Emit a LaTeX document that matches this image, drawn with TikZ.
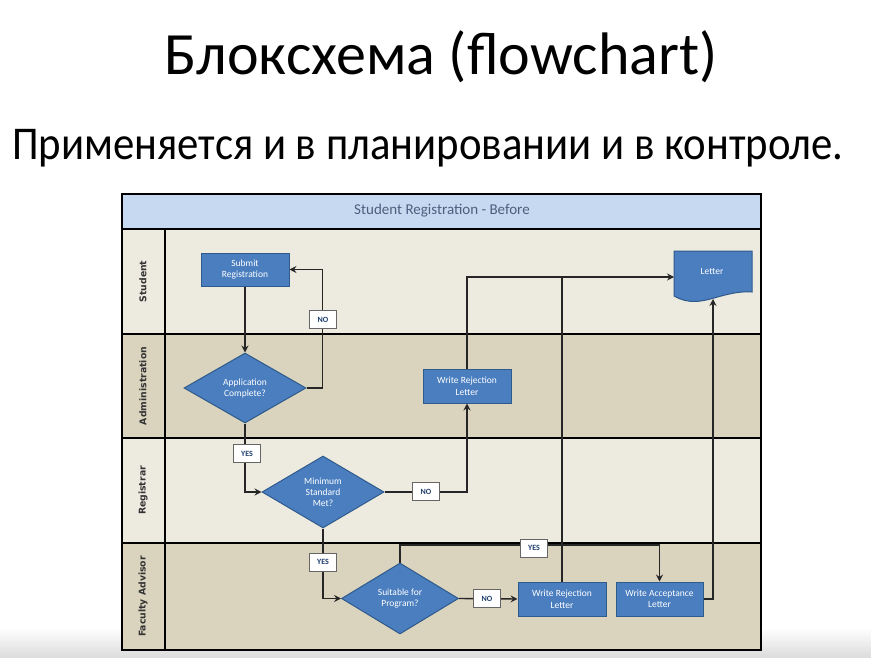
\documentclass[tikz,border=0pt]{standalone}
\usepackage{fontspec}
\setmainfont{Carlito}
\newfontfamily\lanefont{DejaVu Sans}
\usetikzlibrary{shapes.geometric,arrows.meta,calc}
\definecolor{boxblue}{HTML}{4A7EBF}
\definecolor{boxedge}{HTML}{2F5A8C}
\definecolor{laneA}{HTML}{EDEAE0}
\definecolor{laneB}{HTML}{DAD4BE}
\definecolor{hdr}{HTML}{C6D9F0}
\definecolor{hdrtext}{HTML}{4B607F}
\definecolor{lbltext}{HTML}{1F3F6F}
\tikzset{
  procbox/.style={draw=boxedge, fill=boxblue, line width=1pt, text=white,
    font=\fontsize{9.5}{11.5}\selectfont, align=center, minimum width=88,
    minimum height=34, inner sep=0},
  decision/.style={diamond, draw=boxedge, fill=boxblue, line width=1pt,
    text=white, font=\fontsize{9.5}{11}\selectfont, align=center, inner sep=0},
  flag/.style={draw=black!60, fill=white, line width=0.8pt,
    font=\bfseries\fontsize{8}{9}\selectfont, text=lbltext,
    minimum width=27, minimum height=18, inner sep=0},
  conn/.style={line width=1.4pt, draw=black!85},
  arr/.style={conn, -{Stealth[length=7pt,width=7pt,inset=2.5pt]}},
  laneline/.style={line width=2pt, draw=black},
  lanelabel/.style={rotate=90, font=\lanefont\bfseries\fontsize{9.3}{10}\selectfont, text=black!80}
}
\begin{document}
\begin{tikzpicture}[x=1pt,y=-1pt]
\useasboundingbox (0,0) rectangle (871,658);
\fill[white] (0,0) rectangle (871,658);
\shade[top color=white, bottom color=black!14] (0,628) rectangle (871,658);

% titles
\node[anchor=base, font=\fontsize{60}{64}\selectfont] (title) at (441,75) {Блоксхема (flowchart)};
\node[anchor=base west, font=\fontsize{47}{50}\selectfont, inner sep=0, xscale=0.91] (sub) at (12,160) {Применяется и в планировании и в контроле.};

% lanes
\fill[hdr] (122,194) rectangle (761,229);
\fill[laneA] (122,229) rectangle (761,334);
\fill[laneB] (122,334) rectangle (761,438);
\fill[laneA] (122,438) rectangle (761,543);
\fill[laneB] (122,543) rectangle (761,650);
\draw[laneline] (122,229) -- (761,229);
\draw[laneline] (122,334) -- (761,334);
\draw[laneline] (122,438) -- (761,438);
\draw[laneline] (122,543) -- (761,543);
\draw[laneline] (165,229) -- (165,650);
\draw[laneline] (122,194) rectangle (761,650);

\node[font=\fontsize{15}{16}\selectfont, text=hdrtext] (hdrt) at (442,211) {Student Registration - Before};
\node[lanelabel] (l1) at (143,281.5) {Student};
\node[lanelabel] (l2) at (143,386) {Administration};
\node[lanelabel] (l3) at (143,490.5) {Registrar};
\node[lanelabel] (l4) at (143,596.5) {Faculty Advisor};

% shapes
\node[procbox, minimum height=33] (submit) at (245,269.5) {Submit\\Registration};
\node[decision, minimum width=122, minimum height=70] (app) at (245,388) {Application\\Complete?};
\node[decision, minimum width=122, minimum height=72] (mini) at (323,492) {Minimum\\Standard\\Met?};
\node[procbox] (rej1) at (467,386) {Write Rejection\\Letter};
\node[decision, minimum width=117, minimum height=71] (suit) at (400,598.5) {Suitable for\\Program?};
\node[procbox] (rej2) at (562,599) {Write Rejection\\Letter};
\node[procbox, minimum width=87] (acc) at (659.5,599) {Write Acceptance\\Letter};

\path[draw=boxedge, fill=boxblue, line width=1pt] (674,251) -- (752,251) -- (752,292)
  .. controls (740,291) and (728,294) .. (714,298)
  .. controls (700,302) and (688,304) .. (674,296) -- cycle;
\node[text=white, font=\fontsize{9.5}{11}\selectfont] (letter) at (712,271) {Letter};
\coordinate (letterW) at (674,277);
\coordinate (letterB) at (713,299);

% connectors
\draw[arr] (submit.south) -- (app.north);
\draw[arr] (app.east) -- ++(16,0) |- (submit.east);
\draw[arr] (app.south) |- (mini.west);
\draw[arr] (mini.east) -| (rej1.south);
\draw[arr] (rej1.north) |- (letterW);
\draw[conn] (rej2.north) -- (rej2.north |- letterW);
\draw[arr] (mini.south) |- (suit.west);
\draw[arr] (suit.east) -- (rej2.west);
\draw[arr] (suit.north) -- ++(0,-17.5) -| (acc.north);
\draw[arr] (acc.east) -| (letterB);

% flags
\node[flag] (f1) at (323,319.5) {NO};
\node[flag] (f2) at (247,453.5) {YES};
\node[flag] (f3) at (426,491.5) {NO};
\node[flag] (f4) at (323,562) {YES};
\node[flag] (f5) at (487,598.5) {NO};
\node[flag] (f6) at (534,548) {YES};
\end{tikzpicture}
\end{document}
